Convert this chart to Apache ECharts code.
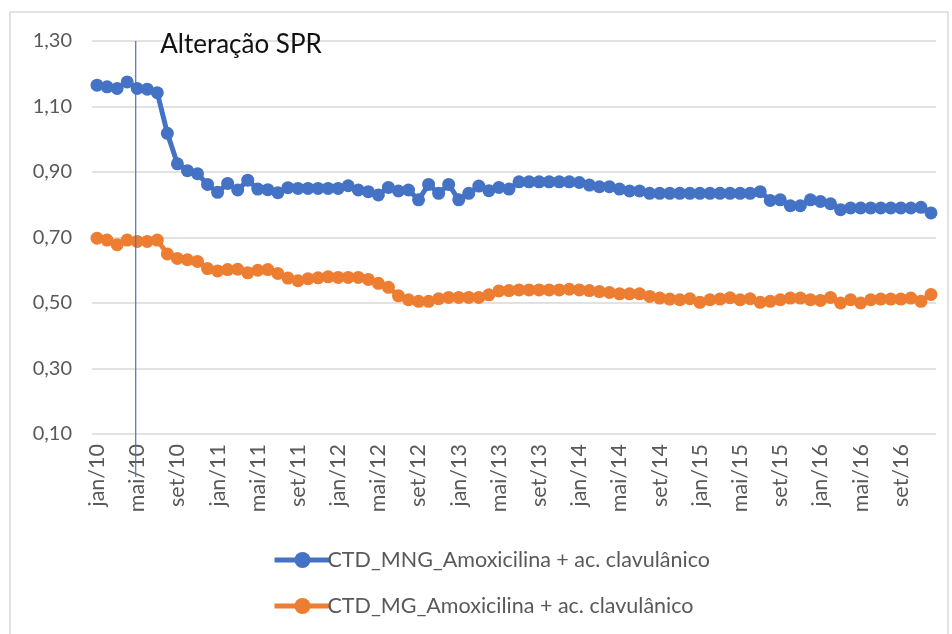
<!DOCTYPE html>
<html>
<head>
<meta charset="utf-8">
<script src="https://cdn.jsdelivr.net/npm/echarts@6/dist/echarts.min.js"></script>
<style>
  html, body { margin: 0; padding: 0; background: #fff; }
  #chart { width: 952px; height: 634px; }
</style>
</head>
<body>
<div id="chart"></div>
<script>
// meses jan/10 .. dez/16
const monthNames = ["jan", "fev", "mar", "abr", "mai", "jun", "jul", "ago", "set", "out", "nov", "dez"]
const years = ["10", "11", "12", "13", "14", "15", "16"]
const categories = []
years.forEach(y => monthNames.forEach(m => categories.push(m + "/" + y)))

const seriesNames = ["CTD_MNG_Amoxicilina + ac. clavulânico", "CTD_MG_Amoxicilina + ac. clavulânico"]

const mngValues = [
  1.165, 1.16, 1.155, 1.175, 1.155, 1.153, 1.142, 1.018, 0.925, 0.904, 0.895, 0.862,
  0.838, 0.865, 0.845, 0.875, 0.848, 0.846, 0.837, 0.852, 0.85, 0.85, 0.85, 0.85,
  0.85, 0.858, 0.845, 0.84, 0.83, 0.853, 0.842, 0.845, 0.815, 0.862, 0.835, 0.862,
  0.815, 0.835, 0.857, 0.843, 0.853, 0.848, 0.87, 0.87, 0.87, 0.87, 0.87, 0.87,
  0.868, 0.86, 0.855, 0.855, 0.848, 0.842, 0.842, 0.835, 0.835, 0.835, 0.835, 0.835,
  0.835, 0.835, 0.835, 0.835, 0.835, 0.835, 0.84, 0.813, 0.815, 0.797, 0.797, 0.815,
  0.81, 0.803, 0.785, 0.79, 0.79, 0.79, 0.79, 0.79, 0.79, 0.79, 0.792, 0.775
]

const mgValues = [
  0.698, 0.692, 0.678, 0.692, 0.688, 0.688, 0.692, 0.65, 0.636, 0.632, 0.627, 0.605,
  0.598, 0.602, 0.603, 0.592, 0.6, 0.602, 0.59, 0.576, 0.568, 0.574, 0.577, 0.58,
  0.578, 0.578, 0.578, 0.572, 0.56, 0.548, 0.522, 0.51, 0.505, 0.505, 0.513, 0.517,
  0.517, 0.517, 0.517, 0.525, 0.537, 0.538, 0.54, 0.54, 0.54, 0.54, 0.54, 0.542,
  0.54, 0.538, 0.535, 0.532, 0.528, 0.528, 0.528, 0.52, 0.515, 0.512, 0.51, 0.513,
  0.502, 0.51, 0.512, 0.516, 0.51, 0.513, 0.502, 0.505, 0.51, 0.515, 0.515, 0.51,
  0.508, 0.517, 0.5, 0.51, 0.5, 0.51, 0.512, 0.512, 0.512, 0.515, 0.505, 0.526
]

const yMin = 0.1
const yMax = 1.3
const yStep = 0.2
const markerMonth = "mai/10"
const markerText = "Alteração SPR"

const font = "Lato, 'Open Sans', sans-serif"
const chart = echarts.init(document.getElementById("chart"))

const option = {
  animation: false,
  grid: { left: 92, right: 16, top: 41, bottom: 200 },
  legend: {
    orient: "vertical",
    left: 267,
    top: 544,
    itemWidth: 56,
    itemHeight: 20,
    itemGap: 24,
    lineStyle: { width: 5 },
    textStyle: { fontFamily: font, fontSize: 21.5, color: "#595959", padding: [0, 0, 0, -8] },
    data: seriesNames,
  },
  xAxis: {
    type: "category",
    data: categories,
    boundaryGap: true,
    axisLine: { show: false },
    axisTick: { show: false },
    axisLabel: {
      interval: 3,
      rotate: 90,
      margin: 10,
      fontFamily: font,
      fontSize: 21.5,
      color: "#595959",
    },
  },
  yAxis: {
    type: "value",
    min: yMin,
    max: yMax,
    interval: yStep,
    axisLine: { show: false },
    axisTick: { show: false },
    splitLine: { lineStyle: { color: "#d9d9d9", width: 1.5 } },
    axisLabel: {
      margin: 20,
      fontFamily: font,
      fontSize: 20,
      color: "#595959",
      formatter: v => v.toFixed(2).replace(".", ","),
    },
  },
  series: [
    {
      name: seriesNames[0],
      type: "line",
      data: mngValues,
      symbol: "circle",
      symbolSize: 13,
      showAllSymbol: true,
      lineStyle: { color: "#4472C4", width: 5 },
      itemStyle: { color: "#4472C4" },
    },
    {
      name: seriesNames[1],
      type: "line",
      data: mgValues,
      symbol: "circle",
      symbolSize: 13,
      showAllSymbol: true,
      lineStyle: { color: "#ED7D31", width: 5 },
      itemStyle: { color: "#ED7D31" },
    },
  ],
}
chart.setOption(option)

// linha vertical da alteração + moldura
const lx = chart.convertToPixel({ xAxisIndex: 0 }, markerMonth)
const yTop = chart.convertToPixel({ yAxisIndex: 0 }, yMax)
const yBottom = chart.convertToPixel({ yAxisIndex: 0 }, yMin)
chart.setOption({
  graphic: [
    {
      type: "rect",
      shape: { x: 10, y: 12, width: 938, height: 640 },
      style: { fill: null, stroke: "#d9d9d9", lineWidth: 1.5 },
      silent: true,
      z: -1,
    },
    {
      type: "line",
      shape: { x1: lx - 1.5, y1: yTop, x2: lx - 1.5, y2: yBottom + 43 },
      style: { stroke: "#4472C4", lineWidth: 1.2 },
      z: 10,
    },
    {
      type: "text",
      x: lx + 23,
      y: yTop + 4,
      style: { text: markerText, font: "26px " + font, fill: "#111", verticalAlign: "middle" },
      z: 10,
    },
  ],
})
</script>
</body>
</html>
